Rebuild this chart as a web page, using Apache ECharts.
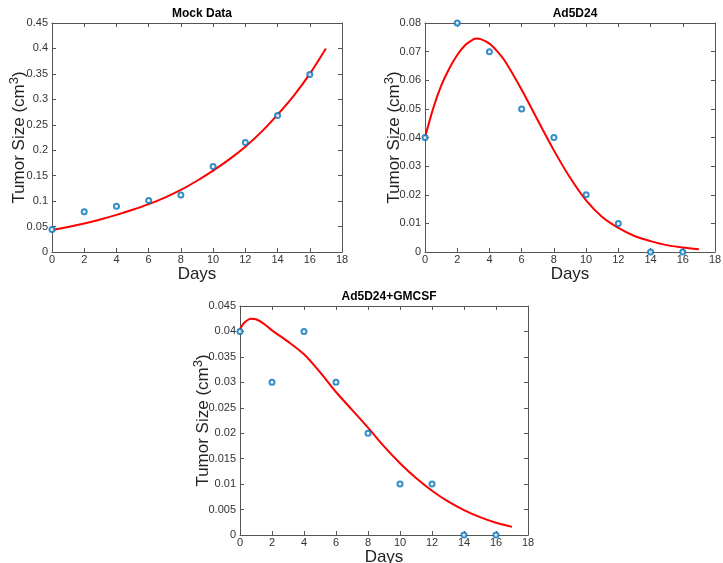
<!DOCTYPE html>
<html><head><meta charset="utf-8">
<script src="https://cdn.jsdelivr.net/npm/echarts@6/dist/echarts.min.js"></script>
<style>html,body{margin:0;padding:0;background:#fff}#c{width:723px;height:563px}</style>
</head><body><div id="c"></div>
<script>
const days = [0, 2, 4, 6, 8, 10, 12, 14, 16];
const mockObs = [0.044, 0.079, 0.090, 0.101, 0.112, 0.168, 0.215, 0.268, 0.349];
const ad5Obs = [0.04, 0.08, 0.07, 0.05, 0.04, 0.02, 0.01, 0, 0];
const gmObs = [0.04, 0.03, 0.04, 0.03, 0.02, 0.01, 0.01, 0, 0];

const fitDays = [0, 1, 2, 3, 4, 5, 6, 7, 8, 9, 10, 11, 12, 13, 14, 15, 16, 17];
const mockFit = [0.043, 0.049, 0.056, 0.064, 0.073, 0.083, 0.094, 0.107, 0.122, 0.140, 0.160, 0.182, 0.207, 0.236, 0.270, 0.307, 0.350, 0.400];

const ad5FitDays = [0, 0.5, 1, 1.5, 2, 2.5, 3, 3.2, 3.5, 4, 4.5, 5, 6, 7, 8, 9, 10, 11, 12, 13, 14, 15, 16, 17];
const ad5Fit = [0.040, 0.050, 0.058, 0.064, 0.0688, 0.0723, 0.0743, 0.0746, 0.0743, 0.0728, 0.0700, 0.0664, 0.0567, 0.0460, 0.0355, 0.0260, 0.0180, 0.0122, 0.0084, 0.0056, 0.0038, 0.0024, 0.0016, 0.0010];

const gmFitDays = [0, 0.3, 0.7, 1, 1.5, 2, 3, 4, 5, 6, 7, 8, 9, 10, 11, 12, 13, 14, 15, 16, 17];
const gmFit = [0.0405, 0.0418, 0.0425, 0.0424, 0.0415, 0.0402, 0.0380, 0.0355, 0.0320, 0.0281, 0.0246, 0.0211, 0.0174, 0.0141, 0.0112, 0.0087, 0.0066, 0.0049, 0.0035, 0.0024, 0.0016];

const xTicks = {min: 0, max: 18, interval: 2};
const yTicks = [
  {min: 0, max: 0.45, interval: 0.05},
  {min: 0, max: 0.08, interval: 0.01},
  {min: 0, max: 0.045, interval: 0.005}
];
const titles = ['Mock Data', 'Ad5D24', 'Ad5D24+GMCSF'];

const grids = [
  {left: 52, top: 23, width: 290, height: 229, outerBoundsMode: 'none'},
  {left: 425, top: 23, width: 290, height: 229, outerBoundsMode: 'none'},
  {left: 240, top: 306, width: 288, height: 229, outerBoundsMode: 'none'}
];
const yNameGaps = [24, 22, 28];

const axisColor = '#555';
const font = 'Liberation Sans, Arial, Helvetica, sans-serif';
const fmt = v => String(+(+v).toFixed(4));

const xAxis = [], yAxis = [];
grids.forEach((g, i) => {
  const base = {
    gridIndex: i, type: 'value', min: xTicks.min, max: xTicks.max, interval: xTicks.interval,
    axisLine: {show: true, onZero: false, lineStyle: {color: axisColor, width: 1}},
    axisTick: {show: true, inside: true, length: 4, lineStyle: {color: axisColor}},
    splitLine: {show: false}
  };
  xAxis.push(Object.assign({}, base, {
    position: 'bottom',
    axisLabel: {show: true, color: '#333', fontSize: 11, fontFamily: font, margin: 2},
    name: 'Days', nameLocation: 'middle', nameGap: 14, nameMoveOverlap: false,
    nameTextStyle: {fontSize: 17, color: '#222', fontFamily: font}
  }));
  xAxis.push(Object.assign({}, base, {position: 'top', axisLabel: {show: false}}));
  const yb = {
    gridIndex: i, type: 'value', min: yTicks[i].min, max: yTicks[i].max, interval: yTicks[i].interval,
    axisLine: {show: true, onZero: false, lineStyle: {color: axisColor, width: 1}},
    axisTick: {show: true, inside: true, length: 4, lineStyle: {color: axisColor}},
    splitLine: {show: false}
  };
  yAxis.push(Object.assign({}, yb, {
    position: 'left',
    axisLabel: {show: true, color: '#333', fontSize: 11, fontFamily: font, margin: 4, formatter: fmt},
    name: '{n|Tumor Size (cm}{sup|3}{n|)}', nameLocation: 'middle', nameGap: yNameGaps[i],
    nameMoveOverlap: false,
    nameTextStyle: {fontSize: 17, color: '#222', fontFamily: font,
      rich: {
        n: {fontSize: 17, color: '#222', fontFamily: font, verticalAlign: 'bottom', lineHeight: 20},
        sup: {fontSize: 13, color: '#222', fontFamily: font, verticalAlign: 'top', lineHeight: 15}
      }}
  }));
  yAxis.push(Object.assign({}, yb, {position: 'right', axisLabel: {show: false}}));
});

const title = titles.map((t, i) => ({
  text: t,
  left: grids[i].left + grids[i].width / 2,
  top: grids[i].top - 20,
  textAlign: 'center',
  textStyle: {fontSize: 12, fontWeight: 'bold', color: '#000', fontFamily: font}
}));

const obs = [mockObs, ad5Obs, gmObs];
const fits = [[fitDays, mockFit], [ad5FitDays, ad5Fit], [gmFitDays, gmFit]];
const series = [];
[0, 1, 2].forEach(i => {
  series.push({
    type: 'line', xAxisIndex: 2 * i, yAxisIndex: 2 * i,
    data: fits[i][0].map((d, k) => [d, fits[i][1][k]]),
    smooth: 0.3, showSymbol: false, silent: true,
    lineStyle: {color: '#ff0000', width: 2}, z: 2
  });
  series.push({
    type: 'scatter', xAxisIndex: 2 * i, yAxisIndex: 2 * i,
    data: days.map((d, k) => [d, obs[i][k]]),
    symbol: 'emptyCircle', symbolSize: 5,
    itemStyle: {color: '#0072BD', borderColor: '#0072BD', borderWidth: 1.5}, z: 3
  });
});

const chart = echarts.init(document.getElementById('c'), null, {renderer: 'canvas'});
chart.setOption({
  animation: false,
  backgroundColor: '#fff',
  title, grid: grids, xAxis, yAxis, series
});
</script></body></html>
